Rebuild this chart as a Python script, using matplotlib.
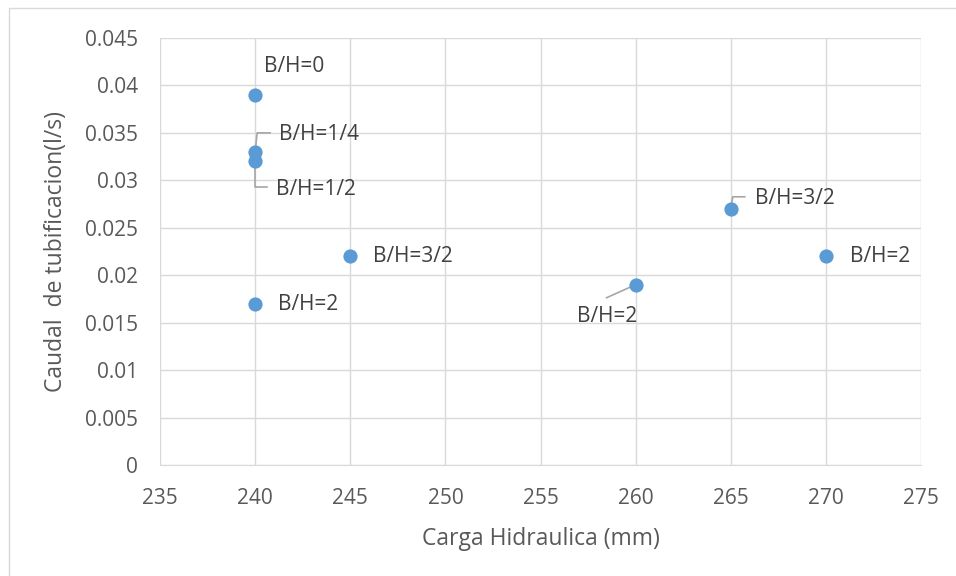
import matplotlib
matplotlib.use("Agg")
import matplotlib.pyplot as plt
from matplotlib.patches import Rectangle

carga = [240, 240, 240, 245, 240, 260, 265, 270]
caudal = [0.039, 0.033, 0.032, 0.022, 0.017, 0.019, 0.027, 0.022]
labels = ["B/H=0", "B/H=1/4", "B/H=1/2", "B/H=3/2", "B/H=2", "B/H=2", "B/H=3/2", "B/H=2"]
xticks = [235, 240, 245, 250, 255, 260, 265, 270, 275]
yticks = [0, 0.005, 0.01, 0.015, 0.02, 0.025, 0.03, 0.035, 0.04, 0.045]
ytick_labels = ["0", "0.005", "0.01", "0.015", "0.02", "0.025", "0.03", "0.035", "0.04", "0.045"]

# label text offsets (pixels, text left / vertical centre) and leader lines (pixel offsets)
label_off = [(9, 28), (24, 17), (21, -28), (23, 0), (23, -1), (-59, -32), (24, 10), (24, 0)]
leaders = [None,
           [(0, 0), (2, 19), (15, 19)],
           [(0, 0), (0, -26), (12, -26)],
           None, None,
           [(0, 0), (-29, -13)],
           [(0, 0), (2, 12), (14, 12)],
           None]

FONT = "Open Sans"
GREY = "#595959"

fig = plt.figure(figsize=(9.56, 5.76), dpi=100)
fig.add_artist(Rectangle((9 / 956, -0.1), 1.2, (576 - 8) / 576 + 0.1, transform=fig.transFigure,
                         fill=False, edgecolor="#D9D9D9", linewidth=1.0))
ax = fig.add_axes([160 / 956, 1 - 465 / 576, (921 - 160) / 956, (465 - 38) / 576])

ax.set_xlim(235, 275)
ax.set_ylim(0, 0.045)
ax.set_xticks(xticks)
ax.set_xticklabels([str(t) for t in xticks], fontfamily=FONT, fontsize=15, color=GREY)
ax.set_yticks(yticks)
ax.set_yticklabels(ytick_labels, fontfamily=FONT, fontsize=15, color=GREY)
ax.tick_params(axis="y", length=0, pad=16)
ax.tick_params(axis="x", length=0, pad=16.5)
ax.grid(True, color="#D9D9D9", linewidth=1.0)
ax.set_axisbelow(True)
for s in ["top", "right", "left"]:
    ax.spines[s].set_visible(False)
ax.spines["bottom"].set_color("#D9D9D9")

for i, (xv, yv) in enumerate(zip(carga, caudal)):
    if leaders[i]:
        pts = [ax.transData.transform((xv, yv)) + (dx, dy) for dx, dy in leaders[i]]
        inv = ax.transData.inverted()
        dpts = [inv.transform(p) for p in pts]
        ax.plot([p[0] for p in dpts], [p[1] for p in dpts], color="#A6A6A6", lw=1.2,
                zorder=2, clip_on=False)

ax.scatter(carga, caudal, s=105, color="#5B9BD5", zorder=3, linewidths=0)

for i, (xv, yv) in enumerate(zip(carga, caudal)):
    dx, dy = label_off[i]
    ax.annotate(labels[i], (xv, yv), xytext=(dx, dy), textcoords="offset pixels",
                ha="left", va="center", fontfamily=FONT, fontsize=15, color="#404040",
                zorder=4)

ax.set_xlabel("Carga Hidraulica (mm)", fontfamily=FONT, fontsize=16.5, color=GREY, labelpad=13)
ax.set_ylabel("Caudal  de tubificacion(l/s)", fontfamily=FONT, fontsize=16.5, color=GREY, labelpad=12)

fig.savefig("out.png", dpi=100)
